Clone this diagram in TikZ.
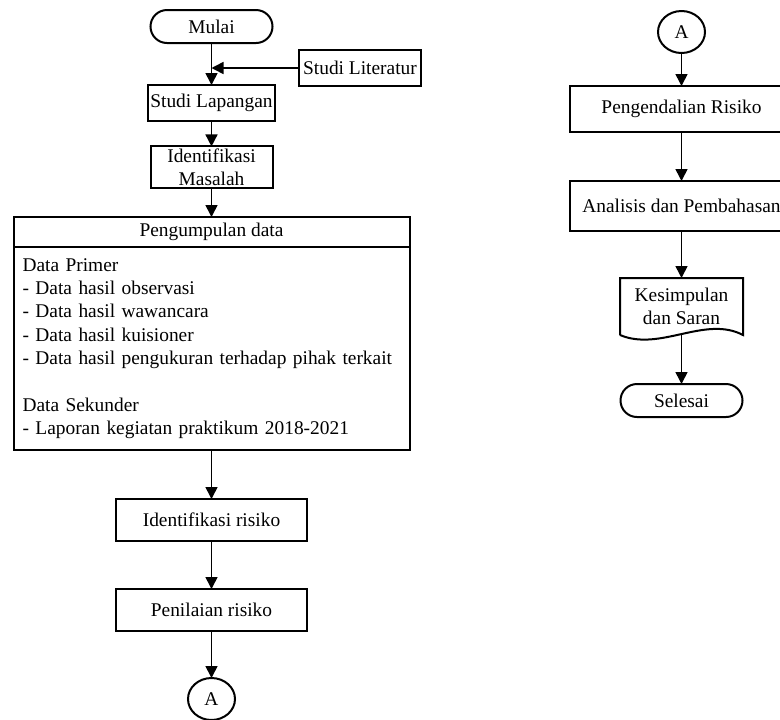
\documentclass[tikz,border=0pt]{standalone}
\usepackage{fontspec}
\setmainfont{Liberation Serif}
\usepackage{tkz-graph}
\usetikzlibrary{arrows.meta,shapes.geometric}

\begin{document}
\begin{tikzpicture}[x=0.5pt,y=-0.5pt,font=\fontsize{9.7}{11.65}\selectfont,line width=1pt]
\clip (0,0) rectangle (780,719);
\tikzset{VertexStyle/.style ={draw, rectangle, rounded corners=8.25pt, minimum width=61pt, minimum height=16.5pt, inner sep=0pt}}
\Vertex[x=211.5, y=26.5, L=Mulai]{mulai}
\Vertex[x=681.5, y=400.5, L=Selesai]{sls}
\tikzset{VertexStyle/.style ={draw, rectangle, minimum width=61pt, minimum height=18pt, inner sep=1pt, align=center}}
\Vertex[x=360, y=68, L={Studi Literatur}]{lit}
\Vertex[x=211.5, y=103, L={Studi Lapangan}]{lap}
\Vertex[x=211.5, y=167, L={Identifikasi\\Masalah}]{idm}
\tikzset{VertexStyle/.style ={draw, rectangle, minimum width=198pt, minimum height=15pt, inner sep=1pt}}
\Vertex[x=211.5, y=232, L={Pengumpulan data}]{pd_h}
\node[draw, minimum width=198pt, minimum height=101.5pt, text width=189pt, inner xsep=4.5pt, align=left] (pd_b) at (211.5,348.5) {Data Primer\\- Data hasil observasi\\- Data hasil wawancara\\- Data hasil kuisioner\\- Data hasil pengukuran terhadap pihak terkait\\[11.65pt]Data Sekunder\\- Laporan kegiatan praktikum 2018-2021};
\tikzset{VertexStyle/.style ={draw, rectangle, minimum width=95.5pt, minimum height=21pt, inner sep=1pt}}
\Vertex[x=211.5, y=520, L={Identifikasi risiko}]{idr}
\Vertex[x=211.5, y=610, L={Penilaian risiko}]{pnr}
\tikzset{VertexStyle/.style ={draw, rectangle, minimum width=112pt, minimum height=23pt, inner sep=1pt}}
\Vertex[x=681.5, y=109, L={Pengendalian Risiko}]{pgr}
\tikzset{VertexStyle/.style ={draw, rectangle, minimum width=112pt, minimum height=25pt, inner sep=1pt}}
\Vertex[x=681.5, y=206, L={Analisis dan Pembahasan}]{anl}
\tikzset{VertexStyle/.style ={draw, ellipse, minimum width=23.5pt, minimum height=21pt, inner sep=0pt}}
\Vertex[x=211.5, y=699, L=A]{A_1}
\Vertex[x=681.5, y=32, L=A]{A_2}
% dokumen
\node[minimum width=60.5pt, minimum height=27.5pt, inner sep=0pt, align=center] (ksm) at (681.5,306.5) {Kesimpulan\\dan Saran};
\draw (ksm.south west) -- (ksm.north west) -- (ksm.north east) -- (ksm.south east)
  .. controls (705,315) and (660,352) .. (ksm.south west);
\coordinate (ksm_b) at (681.5,333.5);
\coordinate (j_1) at (211.5,68);
\tikzset{EdgeStyle/.style ={-{Triangle[length=6pt,width=6pt]}}}
\Edge (mulai)(lap)
\Edge (lit)(j_1)
\Edge (lap)(idm)
\Edge (idm)(pd_h)
\Edge (pd_b)(idr)
\Edge (idr)(pnr)
\Edge (pnr)(A_1)
\Edge (A_2)(pgr)
\Edge (pgr)(anl)
\Edge (anl)(ksm)
\Edge (ksm_b)(sls)
\end{tikzpicture}
\end{document}
